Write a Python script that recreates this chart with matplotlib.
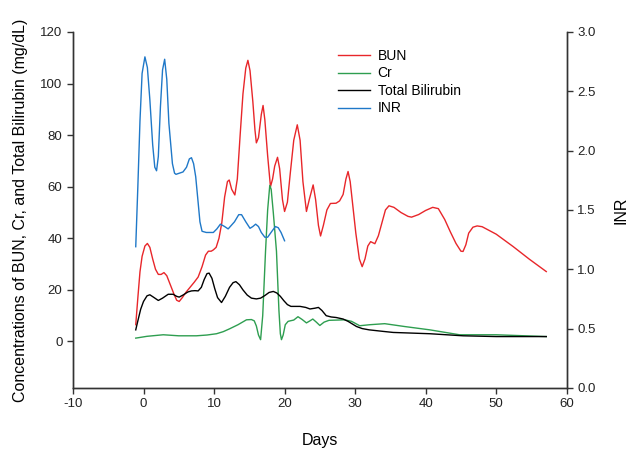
import matplotlib
matplotlib.use('Agg')
import matplotlib.pyplot as plt

plt.rcParams['font.family'] = ['Liberation Sans', 'DejaVu Sans']
plt.rcParams['axes.unicode_minus'] = False

# values (days, mg/dL and INR)
bun_days = [-1.1, -0.8, -0.5, -0.2, 0.2, 0.55, 0.9, 1.3, 1.7, 2.1, 2.5, 2.9, 3.3, 3.8, 4.3, 4.7,
            5.06, 5.5, 6.0, 6.6, 7.2, 7.75, 8.3, 8.8, 9.2, 9.6, 9.9, 10.3, 10.7, 11.1, 11.5, 11.9,
            12.15, 12.5, 12.95, 13.3, 13.7, 14.1, 14.5, 14.8, 15.1, 15.5, 15.8, 16.0, 16.3, 16.7,
            16.95, 17.2, 17.6, 18.0, 18.3, 18.6, 19.0, 19.3, 19.7, 20.0, 20.4, 20.8, 21.3, 21.8,
            22.2, 22.6, 23.1, 23.5, 24.05, 24.4, 24.8, 25.1, 25.5, 26.0, 26.5, 27.3, 27.8, 28.3,
            28.7, 29.0, 29.3, 29.7, 30.1, 30.6, 31.0, 31.4, 31.8, 32.2, 32.8, 33.3, 33.8, 34.3,
            34.8, 35.5, 36.5, 37.5, 38.0, 39.0, 40.0, 41.0, 41.8, 42.7, 43.5, 44.3, 45.0, 45.3,
            45.7, 46.1, 46.7, 47.3, 48.0, 50.0, 52.4, 54.7, 57.1]
bun = [6.5, 17, 27, 33, 37, 38, 36.5, 32, 28, 26, 26, 26.7, 25.5, 22, 18.5, 16,
       15.5, 17, 19, 21, 23, 25, 29, 33.5, 35, 35, 35.5, 36.5, 40, 46, 56, 62,
       62.6, 59, 56.8, 63, 80, 96, 106, 109, 105, 93, 82, 77, 79, 88,
       91.5, 86, 72, 60, 63, 68, 71.4, 67, 55, 50.4, 54, 65, 78, 84,
       78, 62, 50.4, 55, 60.7, 55, 45, 40.9, 45, 51, 53.5, 53.6, 54.5, 57,
       63, 65.9, 62, 52, 42, 32, 29, 32, 37, 38.7, 37.9, 41, 46, 51,
       52.6, 52, 50, 48.5, 48.2, 49.2, 50.8, 52, 51.5, 47.3, 42.5, 38, 35, 34.9,
       37.5, 42, 44.3, 44.8, 44.5, 41.6, 36.8, 31.9, 27.1]

cr_days = [-1.1, 0.5, 2.8, 5.0, 7.5, 9.0, 10.35, 11.3, 12.2, 13.4, 14.6, 15.3, 15.7, 16.0, 16.3,
           16.6, 16.9, 17.3, 17.6, 17.9, 18.1, 18.4, 18.85, 19.2, 19.4, 19.56, 19.8, 20.1, 20.5,
           20.8, 21.3, 21.9, 22.5, 23.1, 23.6, 24.0, 24.5, 25.0, 25.6, 26.3, 27.5, 28.5, 29.5,
           30.65, 32.1, 34.2, 37.0, 40.6, 44.8, 50.0, 57.1]
cr = [1.3, 2.0, 2.6, 2.2, 2.2, 2.5, 3.0, 3.8, 4.9, 6.5, 8.4, 8.5, 8.0, 6.0, 2.5,
      0.7, 10, 35, 51, 60.5, 59, 50, 35, 12, 3, 0.7, 2.5, 6.5, 7.8,
      8.0, 8.3, 9.6, 8.5, 7.2, 8.0, 8.7, 7.5, 6.2, 7.5, 8.2, 8.3, 8.4, 7.8,
      6.1, 6.5, 6.9, 5.8, 4.5, 2.6, 2.6, 1.9]

tbil_days = [-1.1, -0.8, -0.4, 0.0, 0.5, 0.9, 1.4, 2.1, 2.7, 3.5, 4.2, 4.7, 5.06, 5.6, 6.3, 6.8,
             7.3, 7.75, 8.2, 8.6, 9.0, 9.3, 9.7, 10.1, 10.5, 11.06, 11.6, 12.2, 12.7, 13.1, 13.6,
             14.1, 14.7, 15.3, 16.0, 16.6, 17.2, 17.8, 18.4, 18.9, 19.4, 19.9, 20.4, 20.9, 22.2,
             23.0, 23.6, 24.3, 24.8, 25.3, 25.9, 26.6, 27.3, 28.3, 29.0, 29.6, 30.2, 31.0, 32.0,
             34.0, 35.4, 40.6, 45.3, 50.0, 57.1]
tbil = [4.5, 8, 12.5, 15.5, 17.7, 18.1, 17.2, 15.9, 16.8, 18.3, 18.3, 17.5, 17.2, 18, 19.2, 19.6,
        19.7, 19.6, 21, 24, 26.3, 26.5, 24.5, 20.5, 17, 15.1, 17.5, 21, 22.8, 23.2, 22,
        20, 18, 16.8, 16.5, 16.8, 17.8, 19, 19.4, 18.8, 17.5, 15.8, 14.3, 13.6, 13.6,
        13.2, 12.6, 12.9, 13.2, 12, 10.0, 9.5, 9.3, 8.7, 7.8, 6.8, 5.8, 5.0, 4.5,
        3.9, 3.5, 3.0, 2.2, 1.9, 1.9]

inr_days = [-1.1, -0.8, -0.5, -0.2, 0.2, 0.55, 0.9, 1.3, 1.6, 1.85, 2.1, 2.4, 2.7, 3.0, 3.3, 3.6,
            4.1, 4.4, 4.6, 5.1, 5.6, 6.1, 6.5, 6.8, 7.1, 7.4, 7.75, 8.0, 8.3, 8.9, 9.9, 10.4,
            10.9, 11.5, 12.0, 12.9, 13.5, 13.9, 14.5, 15.1, 15.5, 15.9, 16.3, 16.7, 17.2, 17.6,
            18.2, 18.7, 19.1, 19.5, 20.0]
inr = [1.19, 1.7, 2.25, 2.65, 2.79, 2.7, 2.43, 2.05, 1.86, 1.83, 1.95, 2.37, 2.68, 2.77, 2.6, 2.23,
       1.89, 1.81, 1.80, 1.81, 1.82, 1.86, 1.93, 1.94, 1.89, 1.78, 1.56, 1.40, 1.32, 1.31, 1.31, 1.34,
       1.38, 1.36, 1.34, 1.40, 1.46, 1.46, 1.40, 1.345, 1.36, 1.38, 1.36, 1.31, 1.27, 1.27,
       1.32, 1.36, 1.35, 1.31, 1.24]

fig = plt.figure(figsize=(6.29, 4.5), dpi=100)
ax = fig.add_axes([0.116, 0.138, 0.785, 0.791])
ax2 = ax.twinx()

l1, = ax.plot(bun_days, bun, color='#e8262a', lw=1.0)
l2, = ax.plot(cr_days, cr, color='#2e9e50', lw=1.0)
l3, = ax.plot(tbil_days, tbil, color='black', lw=1.0)
l4, = ax2.plot(inr_days, inr, color='#1f78c8', lw=1.0)

ax.set_xlim(-10, 60)
ax.set_ylim(-18, 120)
ax.set_xticks(range(-10, 61, 10))
ax.set_yticks(range(0, 121, 20))
ax2.set_ylim(0, 3)
ax2.set_yticks([0, 0.5, 1, 1.5, 2, 2.5, 3])
ax2.set_yticklabels(['0.0', '0.5', '1.0', '1.5', '2.0', '2.5', '3.0'])

for a in (ax, ax2):
    a.spines['top'].set_visible(False)
    for s in ('left', 'right', 'bottom'):
        a.spines[s].set_color('#333333')
        a.spines[s].set_linewidth(1.0)
    a.tick_params(direction='out', length=4, width=1.0, color='#333333',
                  labelsize=9.5, labelcolor='#222222')

ax.set_xlabel('Days', fontsize=11.5, labelpad=16)
ax.set_ylabel('Concentrations of BUN, Cr, and Total Bilirubin (mg/dL)', fontsize=11.5, labelpad=9)
ax2.set_ylabel('INR', fontsize=11.5, labelpad=13)

fig.legend([l1, l2, l3, l4], ['BUN', 'Cr', 'Total Bilirubin', 'INR'],
           loc='upper left', bbox_to_anchor=(338 / 629, 1 - 49 / 450),
           frameon=False, fontsize=10, borderpad=0, borderaxespad=0,
           labelspacing=0.25, handlelength=2.3, handletextpad=0.55)

fig.savefig('out.png', dpi=100)
